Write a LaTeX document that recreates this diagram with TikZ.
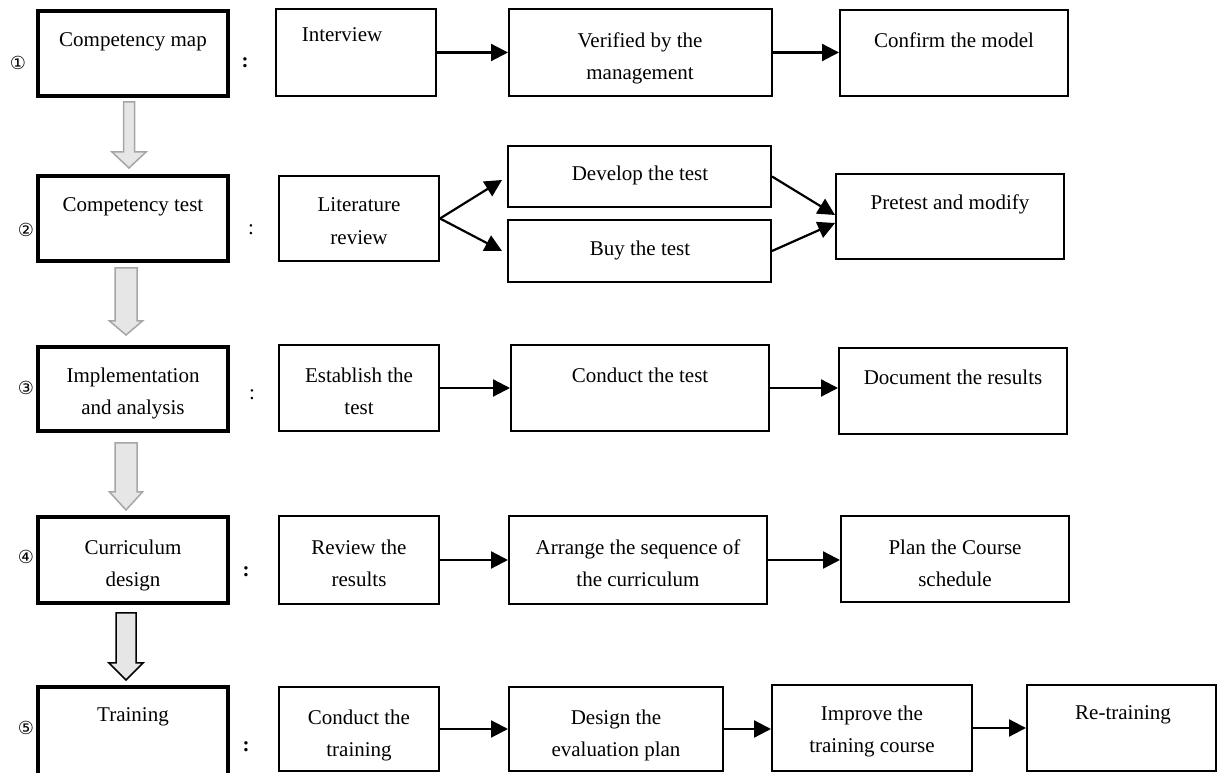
\documentclass[tikz,border=0pt]{standalone}
\usepackage{fontspec}
\setmainfont{Liberation Serif}
\newfontfamily\djv{DejaVu Sans}
\usetikzlibrary{arrows.meta,calc}
\definecolor{arrowfill}{HTML}{E6E6E6}
\definecolor{arrowedge}{HTML}{A6A6A6}
\tikzset{
 thinbox/.style={draw=black, rectangle, inner sep=0pt, line width=1.8pt},
 thickbox/.style={draw=black, rectangle, inner sep=0pt, line width=4pt},
 txt/.style={inner sep=0pt, align=center, font=\fontsize{21}{32.5}\selectfont},
 flow/.style={line width=2.2pt, -{Triangle[length=17pt,width=17pt]}},
 num/.style={inner sep=0pt, font=\djv\fontsize{18}{18}\selectfont},
 colon/.style={inner sep=0pt, font=\fontsize{21}{21}\selectfont},
 boldcolon/.style={inner sep=0pt, font=\bfseries\fontsize{21}{21}\selectfont},
}
% style, name, x1, y1, x2, y2, line width
\newcommand\mkbox[7]{\node[#1, minimum width={(#5-#3-#7)*1pt}, minimum height={(#6-#4-#7)*1pt}] (#2) at ({(#3+#5)/2},{773-(#4+#6)/2}) {};}
% name, x, y of first line centre, text
\newcommand\mktxt[4]{\node[txt, anchor=north] (#1) at (#2,{780.5-#3}) {#4};}
% from, to, x centre, half shaft, half head, top gap, bottom gap, head length, edge colour
\newcommand\blk[9]{\path[draw=#9, fill=arrowfill, line width=1.5pt] let \p1=(#1.south), \p2=(#2.north) in
 ({#3-#4},{\y1-#6pt}) -- ({#3+#4},{\y1-#6pt}) -- ({#3+#4},{\y2+#7pt+#8pt}) -- ({#3+#5},{\y2+#7pt+#8pt}) -- (#3,{\y2+#7pt}) -- ({#3-#5},{\y2+#7pt+#8pt}) -- ({#3-#4},{\y2+#7pt+#8pt}) -- cycle;}
\begin{document}
\begin{tikzpicture}[x=1pt,y=1pt]
\useasboundingbox (0,0) rectangle (1218,773);
% left column
\mkbox{thickbox}{c1}{36}{9}{230}{98}{4}
\mkbox{thickbox}{c2}{36}{174}{230}{263}{4}
\mkbox{thickbox}{c3}{36}{345}{230}{433}{4}
\mkbox{thickbox}{c4}{36}{515}{230}{605}{4}
\mkbox{thickbox}{c5}{36}{685}{230}{779}{4}
\mktxt{c1t}{133}{40}{Competency map}
\mktxt{c2t}{133}{205}{Competency test}
\mktxt{c3t}{133}{375}{Implementation\\and analysis}
\mktxt{c4t}{133}{547}{Curriculum\\design}
\mktxt{c5t}{133}{715}{Training}
% numbers
\node[num] (n1) at (18,{773-63}) {①};
\node[num] (n2) at (26,{773-230}) {②};
\node[num] (n3) at (26,{773-388}) {③};
\node[num] (n4) at (26,{773-557}) {④};
\node[num] (n5) at (26,{773-728}) {⑤};
% colons
\node[boldcolon] (k1) at (245,{773-63}) {:};
\node[colon] (k2) at (251,{773-230}) {:};
\node[colon] (k3) at (252,{773-395}) {:};
\node[boldcolon] (k4) at (246,{773-572}) {:};
\node[boldcolon] (k5) at (246,{773-747}) {:};
% block arrows
\blk{c1}{c2}{129}{5.5}{17}{4}{6}{16}{arrowedge}
\blk{c2}{c3}{126}{11}{16.5}{5}{10}{14}{arrowedge}
\blk{c3}{c4}{126}{11}{16.5}{10}{5}{18}{arrowedge}
\blk{c4}{c5}{126}{10}{17}{8}{5}{17}{black}
% row 1
\mkbox{thinbox}{int}{275}{8}{437}{97}{1.8}
\mkbox{thinbox}{ver}{508}{8}{773}{97}{1.8}
\mkbox{thinbox}{con}{839}{9}{1069}{97}{1.8}
\mktxt{intt}{342}{35}{Interview}
\mktxt{vert}{640}{40}{Verified by the\\management}
\mktxt{cont}{954}{40}{Confirm the model}
\draw[flow] (int.east) -- (int.east -| ver.west);
\draw[flow] (ver.east) -- (ver.east -| con.west);
% row 2
\mkbox{thinbox}{lit}{278}{175}{440}{262}{1.8}
\mkbox{thinbox}{dev}{507}{145}{772}{208}{1.8}
\mkbox{thinbox}{buy}{507}{219}{772}{283}{1.8}
\mkbox{thinbox}{pre}{835}{173}{1065}{260}{1.8}
\mktxt{litt}{359}{205}{Literature\\review}
\mktxt{devt}{640}{173}{Develop the test}
\mktxt{buyt}{640}{248}{Buy the test}
\mktxt{pret}{950}{202}{Pretest and modify}
\draw[flow] (lit.east) -- ([xshift=-5pt,yshift=-3.5pt]dev.west);
\draw[flow] (lit.east) -- ([xshift=-5pt]buy.west);
\draw[flow] (dev.east) -- ([yshift=1.5pt]pre.west);
\draw[flow] (buy.east) -- ([yshift=-6.5pt]pre.west);
% row 3
\mkbox{thinbox}{est}{278}{344}{440}{432}{1.8}
\mkbox{thinbox}{ctest}{510}{344}{770}{432}{1.8}
\mkbox{thinbox}{doc}{838}{347}{1068}{435}{1.8}
\mktxt{estt}{359}{375}{Establish the\\test}
\mktxt{ctestt}{640}{375}{Conduct the test}
\mktxt{doct}{953}{377}{Document the results}
\draw[flow] (est.east) -- (est.east -| ctest.west);
\draw[flow] (ctest.east) -- (ctest.east -| doc.west);
% row 4
\mkbox{thinbox}{rev}{278}{515}{440}{605}{1.8}
\mkbox{thinbox}{arr}{508}{515}{768}{605}{1.8}
\mkbox{thinbox}{plan}{840}{515}{1070}{603}{1.8}
\mktxt{revt}{359}{547}{Review the\\results}
\mktxt{arrt}{638}{547}{Arrange the sequence of\\the curriculum}
\mktxt{plant}{955}{547}{Plan the Course\\schedule}
\draw[flow] (rev.east) -- (rev.east -| arr.west);
\draw[flow] (arr.east) -- (arr.east -| plan.west);
% row 5
\mkbox{thinbox}{ctr}{278}{686}{440}{772}{1.8}
\mkbox{thinbox}{des}{508}{686}{724}{772}{1.8}
\mkbox{thinbox}{imp}{771}{684}{973}{772}{1.8}
\mkbox{thinbox}{ret}{1026}{684}{1217}{772}{1.8}
\mktxt{ctrt}{359}{717}{Conduct the\\training}
\mktxt{dest}{616}{717}{Design the\\evaluation plan}
\mktxt{impt}{872}{713}{Improve the\\training course}
\mktxt{rett}{1123}{713}{Re-training}
\draw[flow] (ctr.east) -- (ctr.east -| des.west);
\draw[flow] (des.east) -- (des.east -| imp.west);
\draw[flow] (imp.east) -- (imp.east -| ret.west);
\end{tikzpicture}
\end{document}
